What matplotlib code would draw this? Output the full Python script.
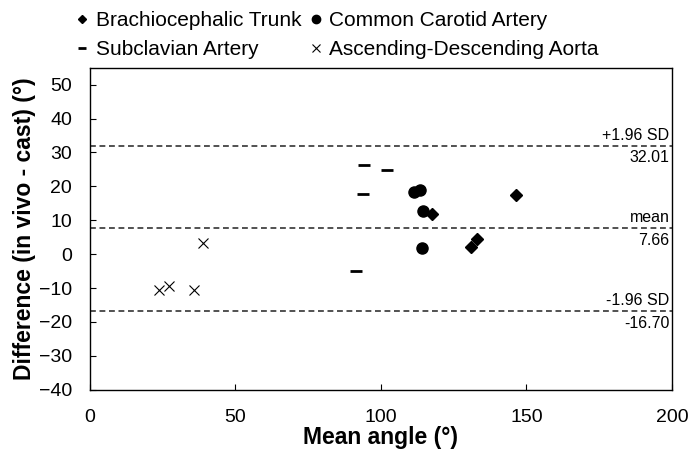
import numpy as np
import matplotlib
matplotlib.use('Agg')
import matplotlib.pyplot as plt

plt.rcParams['font.family'] = ['Liberation Sans', 'DejaVu Sans']

# Bland-Altman data: mean angle (x) and difference in vivo - cast (y)
bt_x = [117.6, 146.4, 133.0, 131.0]
bt_y = [11.8, 17.4, 4.4, 2.1]
cc_x = [111.5, 113.5, 114.6, 114.1]
cc_y = [18.2, 18.8, 12.8, 1.9]
sa_x = [94.1, 102.0, 93.8, 91.5]
sa_y = [26.3, 24.7, 17.7, -5.1]
ao_x = [38.9, 23.8, 27.2, 35.8]
ao_y = [3.4, -10.7, -9.5, -10.7]

mean_diff = 7.66
upper_loa = 32.01
lower_loa = -16.70

fig = plt.figure(figsize=(6.92, 4.57), dpi=100)
ax = fig.add_axes([0.130, 0.147, 0.841, 0.705])

ax.plot(bt_x, bt_y, 'D', color='black', ms=6, ls='none', label='Brachiocephalic Trunk')
ax.plot(sa_x, sa_y, '_', color='black', ms=8, mew=2, ls='none', label='Subclavian Artery')
ax.plot(cc_x, cc_y, 'o', color='black', ms=8, ls='none', label='Common Carotid Artery')
ax.plot(ao_x, ao_y, 'x', color='black', ms=7, mew=0.8, ls='none', label='Ascending-Descending Aorta')

# Limits of agreement
for val, name in [(upper_loa, '+1.96 SD'), (mean_diff, 'mean'), (lower_loa, '-1.96 SD')]:
    ax.axhline(val, color='#333333', ls=(0, (3.5, 2.2)), lw=1.2)
    ax.text(0.996, val + 0.9, name, transform=ax.get_yaxis_transform(),
            ha='right', va='bottom', fontsize=11.5)
    ax.text(0.996, val - 1.4, f'{val:.2f}', transform=ax.get_yaxis_transform(),
            ha='right', va='top', fontsize=11.5)

ax.set_xlim(0, 200)
ax.set_ylim(-40, 55)
ax.set_xticks([0, 50, 100, 150, 200])
ax.set_yticks(np.arange(-40, 51, 10))
ax.tick_params(direction='in', length=4, labelsize=14)
ax.tick_params(axis='x', pad=14)
ax.tick_params(axis='y', pad=13)
for s in ax.spines.values():
    s.set_linewidth(1.0)

ax.set_xlabel('Mean angle (°)', fontsize=16.5, fontweight='bold', labelpad=0)
ax.set_ylabel('Difference (in vivo - cast) (°)', fontsize=16.5, fontweight='bold', labelpad=2)

fig.legend(loc='upper left', bbox_to_anchor=(0.084, 1.017), ncol=2, frameon=False,
           fontsize=15, markerscale=0.75, handlelength=0.5, handletextpad=0.4,
           columnspacing=0.45, labelspacing=0.5)

fig.savefig('out.png', dpi=100)
